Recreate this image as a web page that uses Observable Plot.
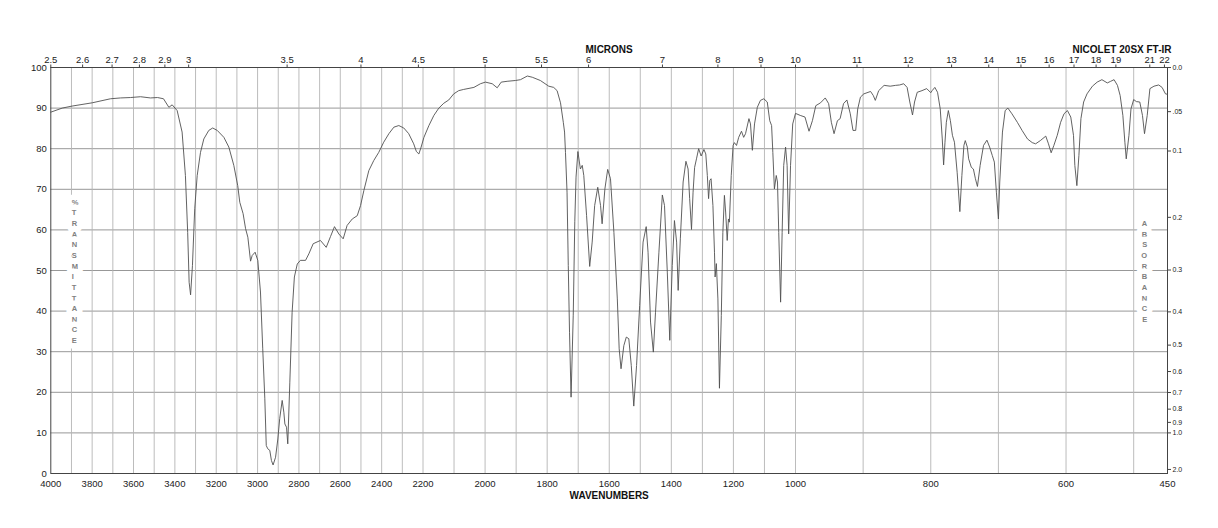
<!DOCTYPE html>
<html><head><meta charset="utf-8">
<script src="https://cdn.jsdelivr.net/npm/d3@7"></script>
<script src="https://cdn.jsdelivr.net/npm/@observablehq/plot@0.6"></script>
<style>html,body{margin:0;padding:0;background:#fff;} svg{display:block;}</style>
</head><body><div id="chart"></div>
<script>
// Spectrum: wavenumber (cm-1) and % transmittance
const wavenumbers = [4000,3945,3897,3800,3711,3663,3615,3566,3518,3484,3455,3429,3413,3389,3365,3349,3338,3331,3324,3315,3304,3292,3276,3260,3236,3217,3195,3163,3139,3115,3096,3086,3070,3058,3047,3034,3026,3012,2999,2986,2975,2965,2958,2951,2941,2933,2925,2913,2902,2893,2881,2873,2868,2860,2854,2844,2833,2822,2808,2793,2768,2752,2731,2696,2668,2647,2628,2607,2586,2567,2542,2518,2502,2486,2462,2438,2414,2390,2365,2341,2317,2293,2269,2245,2232,2220,2209,2197,2181,2165,2149,2133,2117,2101,2085,2069,2036,2015,1999,1977,1961,1948,1929,1902,1886,1864,1848,1822,1795,1779,1768,1757,1748,1744,1741,1736,1732,1728,1723,1716,1711,1707,1701,1693,1687,1682,1673,1663,1655,1647,1637,1628,1623,1614,1605,1596,1585,1574,1568,1562,1553,1545,1537,1529,1521,1512,1502,1491,1481,1475,1467,1458,1451,1440,1429,1422,1413,1405,1397,1390,1383,1378,1371,1362,1353,1346,1341,1335,1330,1325,1319,1312,1304,1295,1289,1284,1280,1276,1272,1266,1261,1259,1255,1250,1245,1239,1234,1229,1225,1220,1216,1213,1207,1201,1197,1190,1183,1174,1167,1161,1150,1145,1139,1132,1123,1113,1102,1091,1083,1077,1073,1068,1062,1058,1054,1048,1043,1038,1032,1027,1022,1016,1009,1000,993,986,980,975,970,963,956,951,947,943,938,934,929,924,919,915,911,908,904,899,889,885,882,877,869,860,852,846,840,835,831,827,824,820,813,806,800,798,794,790,786,783,781,779,777,774,771,768,765,761,757,754,751,749,746,744,740,737,734,731,727,722,717,713,709,706,703,700,698,694,690,686,680,672,665,657,650,645,638,630,626,622,618,613,608,603,598,593,589,587,584,581,578,574,569,561,554,547,539,534,529,524,520,516,513,511,507,504,500,496,491,487,484,480,476,470,463,458,453,450];
const transmittance = [89.0,90.0,90.5,91.3,92.3,92.5,92.6,92.8,92.5,92.6,92.3,90.2,90.8,89.4,84.1,73.4,59.4,47.1,44.0,51.2,65.2,73.4,79.1,82.4,84.5,85.1,84.5,82.8,80.4,75.9,70.9,66.8,64.0,60.3,58.2,52.3,53.7,54.5,52.5,44.7,30.7,18.4,6.9,6.1,5.7,3.2,2.1,4.0,8.5,13.5,18.0,15.1,12.2,11.4,7.3,22.5,39.7,48.4,51.6,52.5,52.5,54.1,56.6,57.4,55.7,58.4,60.8,59.0,57.8,61.1,62.7,63.5,66.0,69.7,74.6,77.1,79.1,81.6,83.7,85.3,85.7,85.1,83.7,81.2,79.3,78.7,80.4,82.8,85.7,88.2,90.0,91.2,92.0,93.5,94.3,94.6,95.1,96.0,96.4,96.0,95.0,96.4,96.6,96.8,97.0,97.9,97.6,96.8,95.4,95.1,94.3,91.3,86.5,84.1,79.1,69.3,51.2,34.8,18.8,39.0,62.0,73.0,79.3,75.0,75.9,73.4,63.5,51.0,57.0,66.0,70.5,66.0,61.5,70.1,74.9,72.6,59.4,43.0,30.7,25.8,31.5,33.6,33.2,26.6,16.6,26.6,41.4,57.0,60.8,54.5,37.3,29.9,39.7,54.5,68.6,66.0,49.6,32.8,51.2,62.3,57.0,45.1,57.8,71.8,76.9,75.0,67.7,60.1,69.3,75.4,77.5,80.0,78.2,79.8,78.7,73.4,67.7,72.2,72.6,66.0,54.5,48.4,51.7,43.0,21.0,38.9,59.4,68.5,64.4,57.4,62.7,61.9,73.4,80.8,81.5,80.8,82.8,84.3,82.8,83.7,87.4,86.1,79.6,86.1,90.2,91.9,92.3,91.5,86.9,85.7,79.1,70.1,73.4,71.8,59.4,42.2,59.4,75.9,80.4,75.9,59.0,75.9,86.1,88.7,88.2,87.8,84.3,86.9,90.6,91.3,92.5,91.1,86.5,83.7,86.9,87.4,91.1,92.0,88.6,84.5,84.5,89.8,92.7,93.5,94.1,93.1,91.9,94.3,95.6,95.4,95.6,95.7,96.0,95.1,91.5,88.3,91.5,93.9,94.3,94.8,93.8,94.3,95.1,93.9,89.8,82.4,76.0,81.6,86.5,89.4,86.9,83.3,81.6,74.2,64.5,73.4,80.8,82.0,80.4,77.5,75.4,75.0,72.6,70.7,75.9,80.8,82.1,80.4,78.3,76.7,69.3,62.7,71.8,84.1,89.4,90.0,88.6,86.5,84.5,82.4,81.5,81.2,82.0,83.1,81.2,79.0,80.8,83.3,86.5,88.6,89.4,87.8,83.3,75.9,70.9,78.3,87.4,91.5,93.5,95.4,96.4,97.0,96.2,96.6,97.0,95.6,93.1,88.2,81.6,77.5,83.3,89.8,92.1,91.6,91.5,88.2,83.7,88.2,94.8,95.4,95.7,95.1,93.5,93.4];

// Axis tick values and labels
const wavenumberTicks = [4000,3800,3600,3400,3200,3000,2800,2600,2400,2200,2000,1800,1600,1400,1200,1000,800,600,450];
const gridWavenumbers = [3900,3800,3700,3600,3500,3400,3300,3200,3100,3000,2900,2800,2700,2600,2500,2400,2300,2200,2100,2000,1900,1800,1700,1600,1500,1400,1300,1200,1100,1000,900,800,700,600,500];
const micronTicks = [2.5,2.6,2.7,2.8,2.9,3,3.5,4,4.5,5,5.5,6,7,8,9,10,11,12,13,14,15,16,17,18,19,21,22];
const micronLabels = ["2.5","2.6","2.7","2.8","2.9","3","3.5","4","4.5","5","5.5","6","7","8","9","10","11","12","13","14","15","16","17","18","19","21","22"];
const percentTicks = [0,10,20,30,40,50,60,70,80,90,100];
const absorbanceTicks = [0,0.05,0.1,0.2,0.3,0.4,0.5,0.6,0.7,0.8,0.9,1.0,2.0];
const absorbanceLabels = ["0.0",".05","0.1","0.2","0.3","0.4","0.5","0.6","0.7","0.8","0.9","1.0","2.0"];

const data = wavenumbers.map((w, i) => ({wn: w, t: transmittance[i]}));
const micronPos = micronTicks.map(m => 1e4 / m);
const micronMap = new Map(micronPos.map((p, i) => [p, micronLabels[i]]));
const absPos = absorbanceTicks.map(a => 100 * Math.pow(10, -a));
const absMap = new Map(absPos.map((p, i) => [p, absorbanceLabels[i]]));

const font = "'Liberation Sans', Arial, Helvetica, sans-serif";

const chart = Plot.plot({
  width: 1218, height: 528,
  marginLeft: 50.3, marginRight: 51, marginTop: 67, marginBottom: 55,
  style: {fontFamily: font, fontSize: "9.5px", color: "#222", background: "white", overflow: "visible"},
  x: {type: "linear", domain: [4000, 2200, 1000, 450], range: [50.3, 422.5, 795, 1167]},
  y: {domain: [0, 100]},
  marks: [
    Plot.gridY({ticks: percentTicks.slice(1, -1), stroke: "#8c8c8c", strokeOpacity: 1, strokeWidth: 0.9}),
    Plot.gridX({ticks: gridWavenumbers, stroke: "#b4b4b4", strokeOpacity: 1, strokeWidth: 0.9}),
    Plot.text(["%\nT\nR\nA\nN\nS\nM\nI\nT\nT\nA\nN\nC\nE"], {text: d => d, frameAnchor: "left", dx: 21, lineHeight: 1.42, fontSize: 7.5, fontWeight: "bold", fill: "#808080", stroke: "white", strokeWidth: 11, paintOrder: "stroke", strokeLinejoin: "round"}),
    Plot.text(["A\nB\nS\nO\nR\nB\nA\nN\nC\nE"], {text: d => d, frameAnchor: "right", dx: -20.3, lineHeight: 1.42, fontSize: 7.5, fontWeight: "bold", fill: "#808080", stroke: "white", strokeWidth: 11, paintOrder: "stroke", strokeLinejoin: "round"}),
    Plot.frame({stroke: "#444", strokeWidth: 1}),
    Plot.axisX({anchor: "bottom", ticks: wavenumberTicks, tickSize: 0, tickPadding: 7, tickFormat: d => `${d}`, label: null}),
    Plot.axisX({anchor: "top", ticks: micronPos, tickSize: 3.5, tickPadding: 1.5, tickFormat: d => micronMap.get(d), label: null, stroke: "#444"}),
    Plot.axisY({anchor: "left", ticks: percentTicks, tickSize: 0, tickPadding: 4, tickFormat: d => `${d}`, label: null}),
    Plot.axisY({anchor: "right", ticks: absPos, tickSize: 3, tickPadding: 2, tickFormat: d => absMap.get(d), fontSize: 7, label: null, stroke: "#444"}),
    Plot.text(["MICRONS"], {text: d => d, frameAnchor: "top", dy: -22, fontWeight: "bold", fontSize: 10, fill: "#111"}),
    Plot.text(["NICOLET 20SX FT-IR"], {text: d => d, frameAnchor: "top-right", textAnchor: "end", dx: 4, dy: -22, fontWeight: "bold", fontSize: 10, fill: "#111"}),
    Plot.text(["WAVENUMBERS"], {text: d => d, frameAnchor: "bottom", dy: 25, fontWeight: "bold", fontSize: 10, fill: "#111"}),
    Plot.line(data, {x: "wn", y: "t", stroke: "#505050", strokeWidth: 0.9})
  ]
});
document.getElementById("chart").append(chart);
</script>
</body></html>
